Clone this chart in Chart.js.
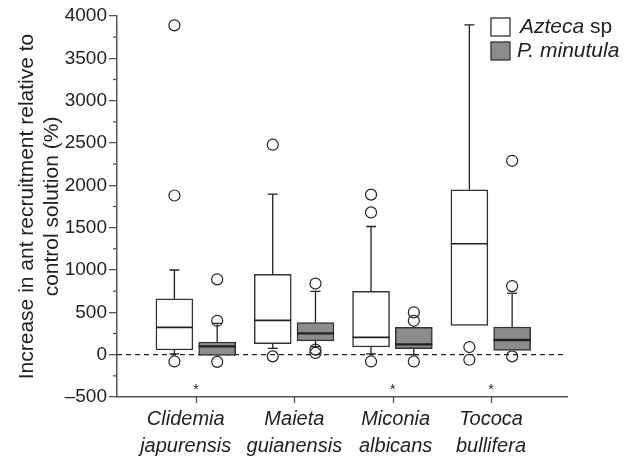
<!DOCTYPE html>
<html lang="en">
<head>
<meta charset="UTF-8">
<title>Ant recruitment box plot</title>
<script src="https://cdn.jsdelivr.net/npm/chart.js"></script>
<style>
  body { margin: 0; background: #fff; }
</style>
</head>
<body>
<canvas id="box-chart" width="630" height="456"></canvas>
<script>
// categories (plant species), group centres and where their labels sit
const categories = [['Clidemia', 'japurensis'], ['Maieta', 'guianensis'], ['Miconia', 'albicans'], ['Tococa', 'bullifera']];
const groupCenters = [1, 2, 3, 4];
const labelPositions = [0.895, 2.0, 3.03, 4.0];
const significant = [true, false, true, true];

// Azteca sp
const aztecaLow = [10, 74, 10, 346];
const aztecaQ1 = [55, 130, 91, 346];
const aztecaMedian = [322, 405, 204, 1310];
const aztecaQ3 = [660, 948, 747, 1947];
const aztecaHigh = [1000, 1896, 1514, 3894];
const aztecaOutliers = [[3890, 1880, -80], [2480, -20], [1890, 1680, -80], [90, -60]];

// P. minutula
const minutulaLow = [-10, 95, 0, 51];
const minutulaQ1 = [-10, 162, 71, 51];
const minutulaMedian = [98, 251, 122, 173];
const minutulaQ3 = [150, 378, 322, 327];
const minutulaHigh = [370, 747, 322, 728];
const minutulaOutliers = [[890, 400, -85], [840, 60, 20], [500, 400, -80], [2290, 810, -20]];

const yTicks = [-500, 0, 500, 1000, 1500, 2000, 2500, 3000, 3500, 4000];

const xMin = 0.196, xMax = 4.773;
const offA = -0.22, offM = 0.215;
const ink = '#222';
const axisColor = '#555';
const fontFamily = '"Liberation Sans", Arial, sans-serif';

Chart.defaults.font.family = fontFamily;
Chart.defaults.color = ink;

function boxData(off, q1, q3) {
  return groupCenters.map((c, i) => ({ x: c + off, y: [q1[i], q3[i]] }));
}
function outlierData(off, list) {
  return list.flatMap((vals, i) => vals.map(v => ({ x: groupCenters[i] + off, y: v })));
}

const groups = [
  { ds: 0, low: aztecaLow, med: aztecaMedian, q1: aztecaQ1, q3: aztecaQ3, high: aztecaHigh, medWidth: 1.6 },
  { ds: 1, low: minutulaLow, med: minutulaMedian, q1: minutulaQ1, q3: minutulaQ3, high: minutulaHigh, medWidth: 2.4 }
];

// whiskers, medians, tick marks, asterisks and legend
const boxExtras = {
  id: 'boxExtras',
  afterDatasetsDraw(chart) {
    const ctx = chart.ctx;
    const y = chart.scales.y, x = chart.scales.x;
    ctx.save();
    ctx.strokeStyle = ink;
    groups.forEach(g => {
      const meta = chart.getDatasetMeta(g.ds);
      meta.data.forEach((bar, i) => {
        const half = bar.width / 2;
        // median
        ctx.lineWidth = g.medWidth;
        ctx.beginPath();
        ctx.moveTo(bar.x - half, y.getPixelForValue(g.med[i]));
        ctx.lineTo(bar.x + half, y.getPixelForValue(g.med[i]));
        ctx.stroke();
        // whiskers
        ctx.lineWidth = 1.3;
        [[g.q3[i], g.high[i]], [g.q1[i], g.low[i]]].forEach(([from, to]) => {
          if (from === to) return;
          const y0 = y.getPixelForValue(from), y1 = y.getPixelForValue(to);
          ctx.beginPath();
          ctx.moveTo(bar.x, y0);
          ctx.lineTo(bar.x, y1);
          ctx.moveTo(bar.x - 5, y1);
          ctx.lineTo(bar.x + 5, y1);
          ctx.stroke();
        });
      });
    });

    // minor ticks on the y axis, category ticks on the x axis
    ctx.strokeStyle = axisColor;
    ctx.lineWidth = 1.3;
    for (let v = -250; v < 4000; v += 500) {
      const py = y.getPixelForValue(v);
      ctx.beginPath();
      ctx.moveTo(x.left - 4, py);
      ctx.lineTo(x.left, py);
      ctx.stroke();
    }
    groupCenters.forEach(c => {
      const px = Math.round(x.getPixelForValue(c)) + 0.5;
      ctx.beginPath();
      ctx.moveTo(px, y.bottom);
      ctx.lineTo(px, y.bottom + 6);
      ctx.stroke();
    });

    // significance stars
    ctx.fillStyle = ink;
    ctx.font = '14px ' + fontFamily;
    ctx.textAlign = 'center';
    ctx.textBaseline = 'middle';
    significant.forEach((s, i) => {
      if (s) ctx.fillText('*', x.getPixelForValue(groupCenters[i]), y.getPixelForValue(-420));
    });

    // legend
    const lx = 491;
    ctx.lineWidth = 1.3;
    ctx.strokeStyle = '#333';
    ctx.fillStyle = '#fff';
    ctx.fillRect(lx, 18, 19, 18);
    ctx.strokeRect(lx, 18, 19, 18);
    ctx.fillStyle = '#8c8c8c';
    ctx.fillRect(lx, 42, 19, 18);
    ctx.strokeRect(lx, 42, 19, 18);
    ctx.fillStyle = ink;
    ctx.textAlign = 'left';
    ctx.font = 'italic 21px ' + fontFamily;
    ctx.fillText('Azteca', 520, 27);
    const w = ctx.measureText('Azteca ').width;
    ctx.font = '21px ' + fontFamily;
    ctx.fillText('sp', 520 + w, 27);
    ctx.font = 'italic 21px ' + fontFamily;
    ctx.fillText('P. minutula', 517, 51);
    ctx.restore();
  }
};

new Chart(document.getElementById('box-chart'), {
  type: 'scatter',
  data: {
    datasets: [
      {
        type: 'bar', label: 'Azteca sp', data: boxData(offA, aztecaQ1, aztecaQ3),
        backgroundColor: '#fff', borderColor: '#333', borderWidth: 1.5, borderSkipped: false,
        barThickness: 37, grouped: false, order: 2
      },
      {
        type: 'bar', label: 'P. minutula', data: boxData(offM, minutulaQ1, minutulaQ3),
        backgroundColor: '#8c8c8c', borderColor: '#333', borderWidth: 1.5, borderSkipped: false,
        barThickness: 37, grouped: false, order: 2
      },
      {
        type: 'scatter', label: 'Azteca outliers', data: outlierData(offA, aztecaOutliers),
        pointRadius: 5.5, borderWidth: 1.2, borderColor: ink, backgroundColor: 'rgba(0,0,0,0)', order: 1
      },
      {
        type: 'scatter', label: 'P. minutula outliers', data: outlierData(offM, minutulaOutliers),
        pointRadius: 5.5, borderWidth: 1.2, borderColor: ink, backgroundColor: 'rgba(0,0,0,0)', order: 1
      },
      {
        type: 'line', label: 'zero', data: [{ x: xMin, y: 0 }, { x: xMax, y: 0 }],
        borderColor: ink, borderWidth: 1.2, borderDash: [5, 4], pointRadius: 0, order: 3
      }
    ]
  },
  options: {
    responsive: false,
    animation: false,
    devicePixelRatio: 1,
    layout: { padding: { top: 16, right: 63, left: 0, bottom: 0 } },
    plugins: { legend: { display: false }, tooltip: { enabled: false } },
    scales: {
      x: {
        type: 'linear', min: xMin, max: xMax, offset: false,
        afterBuildTicks: s => { s.ticks = labelPositions.map(v => ({ value: v })); },
        afterFit: s => { s.height = 59; },
        grid: { display: true, offset: false, drawOnChartArea: false, drawTicks: false },
        border: { color: axisColor, width: 1.5 },
        ticks: {
          autoSkip: false, maxRotation: 0, padding: 9,
          font: { size: 20, style: 'italic', lineHeight: '27px' },
          callback: (v, i) => categories[i]
        }
      },
      y: {
        min: -500, max: 4000,
        afterBuildTicks: s => { s.ticks = yTicks.map(v => ({ value: v })); },
        afterFit: s => { s.width = 117; },
        grid: { drawOnChartArea: false, tickLength: 8, color: axisColor, lineWidth: 1.3 },
        border: { color: axisColor, width: 1.5 },
        ticks: {
          padding: 2, font: { size: 19 },
          callback: v => v < 0 ? '\u2013' + Math.abs(v) : String(v)
        },
        title: {
          display: true,
          text: ['Increase in ant recruitment relative to', 'control solution (%)'],
          font: { size: 21, lineHeight: '25px' },
          padding: { top: 15, bottom: 0 }
        }
      }
    }
  },
  plugins: [boxExtras]
});
</script>
</body>
</html>
